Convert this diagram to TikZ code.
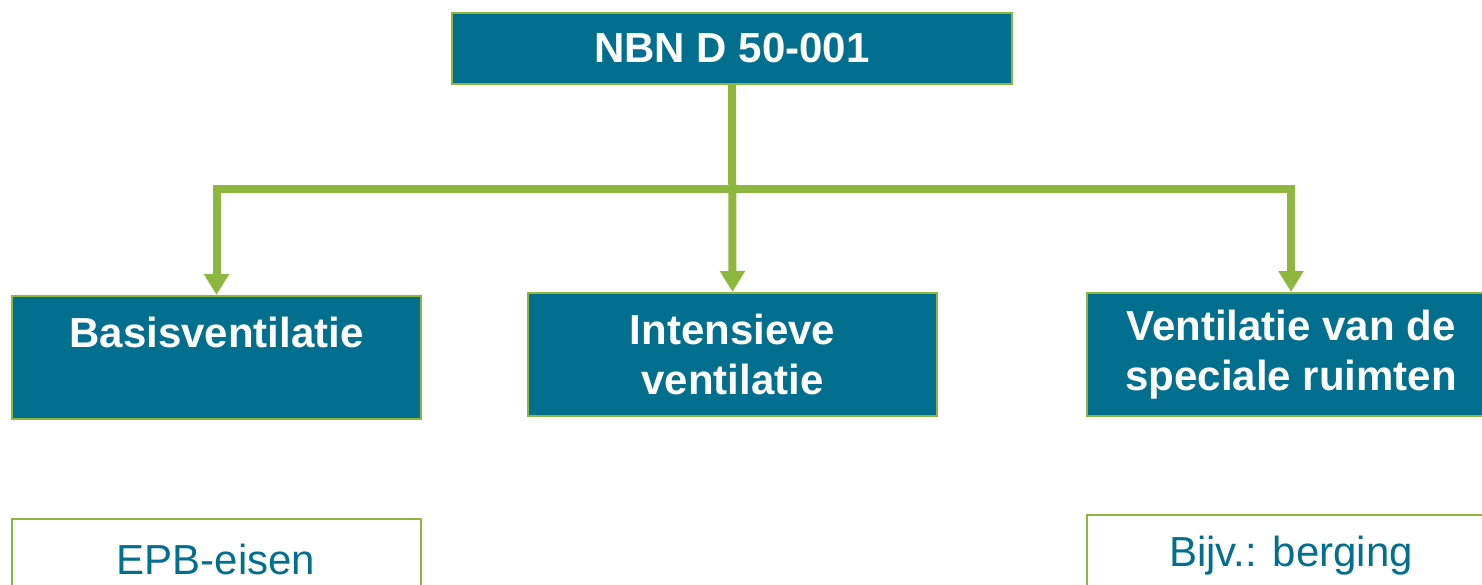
\documentclass[tikz,border=0pt]{standalone}
\usepackage{fontspec}
\setmainfont{Liberation Sans}
\usetikzlibrary{arrows.meta}
\definecolor{box_teal}{RGB}{3,111,142}
\definecolor{edge_green}{RGB}{141,183,62}

\begin{document}
\begin{tikzpicture}[x=1pt,y=-1pt,line width=8pt,>={Triangle[width=24pt,length=21pt]}]
    \tikzstyle{blok}=[draw=edge_green, line width=2pt, rectangle, inner sep=0pt, align=center, font=\fontsize{42}{50}\selectfont]
    \tikzstyle{kop}=[style=blok, fill=box_teal, text=white, font=\fontsize{42}{50}\selectfont\bfseries, minimum width=409pt, minimum height=123pt]
    \tikzstyle{noot}=[style=blok, fill=white, text=box_teal, minimum width=409pt, minimum height=81pt]

    \useasboundingbox (0,0) rectangle (1482,585);

    \node[kop, minimum width=560pt, minimum height=71pt] (nbn) at (732,48.5) {NBN D 50-001};
    \node[kop] (basis)    at (216.5,357.5) {Basisventilatie\\\mbox{}};
    \node[kop] (intens)   at (732.5,354.5) {Intensieve\\ventilatie};
    \node[kop] (speciaal) at (1291,354.5)  {Ventilatie van de\\speciale ruimten};
    \node[noot] (epb)     at (216,559.5)   {EPB-eisen};
    \node[noot] (bijv)    at (1291,555.5)  {Bijv.: berging};
    \coordinate (j) at (732,189);

    \draw[edge_green,->] (nbn.south) -- (intens.north);
    \draw[edge_green,->] (j) -| (basis.north);
    \draw[edge_green,->] (j) -| (speciaal.north);
\end{tikzpicture}
\end{document}
